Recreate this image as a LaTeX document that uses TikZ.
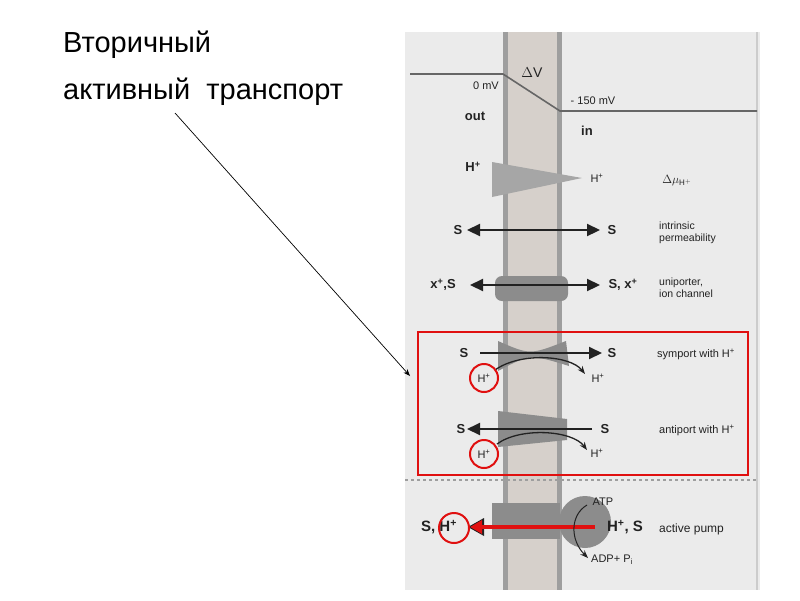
\documentclass[tikz,border=0pt]{standalone}
\usepackage{fontspec}
\setmainfont{Liberation Sans}
\usetikzlibrary{arrows.meta}
\definecolor{pan}{HTML}{EBEBEB}
\definecolor{mem}{HTML}{D6D0CB}
\definecolor{memb}{HTML}{9E9E9E}
\definecolor{prot}{HTML}{8C8C8C}
\definecolor{tx}{HTML}{222222}
\definecolor{rd}{HTML}{E01010}
\newcommand{\hp}{H\textsuperscript{+}}
\tikzset{lb/.style={font=\fontsize{13}{14}\selectfont\bfseries,text=tx,inner sep=0pt},
 sm/.style={font=\fontsize{11}{12}\selectfont,text=tx,inner sep=0pt},
 ds/.style={font=\fontsize{10.5}{12}\selectfont,text=tx,inner sep=0pt,align=left,anchor=west},
 ru/.style={font=\fontsize{29}{32}\selectfont,inner sep=0pt,anchor=west},
 bar/.style={-{Triangle[length=13pt,width=12pt]},line width=2pt,tx},
 dbar/.style={{Triangle[length=13pt,width=12pt]}-{Triangle[length=13pt,width=12pt]},line width=2.2pt,tx},
 cur/.style={-{Stealth[length=8pt]},line width=1.3pt,tx},
 rc/.style={draw=rd,line width=2pt,fill=none}}
\begin{document}
\begin{tikzpicture}[x=1pt,y=-1pt]
\path[fill=white] (0,0) rectangle (800,600);
\useasboundingbox (0,0) rectangle (800,600);
\fill[pan] (405,32) rectangle (760,590);
\draw[gray!40,line width=1.5pt] (757,32) -- (757,590);
\fill[mem] (503,32) rectangle (562,590);
\fill[memb] (503,32) rectangle (508,590);
\fill[memb] (557,32) rectangle (562,590);
% voltage
\draw[gray!80!black,line width=1.6pt] (410,74) -- (503,74) -- (560,111) -- (757,111);
\node[font=\fontsize{14}{14}\selectfont,text=tx] (dv) at (532,73) {$\Delta$V};
\node[sm] (zero) at (486,86) {0 mV};
\node[sm] (m150) at (593,101) {- 150 mV};
\node[lb] (out) at (475,116) {out};
\node[lb] (in) at (587,131) {in};
% gradient
\fill[gray!70] (492,162) -- (582,178) -- (492,197) -- cycle;
\node[lb] (hl) at (473,167) {\hp};
\node[sm] (hr) at (597,178) {\hp};
\node[font=\fontsize{12}{12}\selectfont,text=tx,inner sep=0pt] (mu) at (677,181) {$\Delta\mu_{\mathrm{H}^+}$};
% intrinsic
\node[lb] (s1) at (458,230) {S};
\node[lb] (s2) at (612,230) {S};
\draw[dbar] (467,230) -- (600,230);
\node[ds] (intr) at (659,233) {intrinsic\\permeability};
% uniporter
\fill[prot,rounded corners=7pt] (495,276) rectangle (568,301);
\node[lb] (x1) at (443,285) {x\textsuperscript{+},S};
\node[lb] (x2) at (623,285) {S, x\textsuperscript{+}};
\draw[dbar] (470,285) -- (600,285);
\node[ds] (uni) at (659,288) {uniporter,\\ion channel};
% symport
\fill[prot] (498,341) .. controls (530,355) .. (566,341) -- (569,366) .. controls (530,354) .. (498,371) -- cycle;
\node[lb] (ss1) at (464,353) {S};
\node[lb] (ss2) at (612,353) {S};
\draw[bar] (480,353) -- (602,353);
\node[sm] (sh1) at (484,378) {\hp};
\node[sm] (sh2) at (598,378) {\hp};
\draw[cur] (495,370) .. controls (520,352) and (570,355) .. (585,374);
\node[sm,anchor=west] (syt) at (657,354) {symport with \hp};
% antiport
\fill[prot] (498,411) -- (567,419) -- (567,440) -- (498,447) -- cycle;
\node[lb] (as1) at (461,429) {S};
\node[lb] (as2) at (605,429) {S};
\draw[bar] (592,429) -- (467,429);
\node[sm] (ah1) at (484,454) {\hp};
\node[sm] (ah2) at (597,453) {\hp};
\draw[cur] (497,444) .. controls (520,427) and (572,430) .. (587,450);
\node[sm,anchor=west] (ant) at (659,430) {antiport with \hp};
% red box
\draw[rd,line width=2pt] (418,332) rectangle (748,475);
\draw[rc] (sh1) circle (14);
\draw[rc] (ah1) circle (14);
% dashed
\draw[memb,dashed,line width=1.4pt] (405,480) -- (757,480);
% pump
\fill[prot] (492,503) rectangle (560,539);
\fill[prot] (585,522) circle (26);
\fill[tx] (468,527) -- (484,518) -- (484,536) -- cycle;
\draw[-{Triangle[length=12pt,width=13pt]},rd,line width=4pt] (595,527) -- (470,527);
\node[lb,font=\fontsize{15}{15}\selectfont\bfseries] (pl) at (439,527) {S, \hp};
\node[lb,font=\fontsize{15}{15}\selectfont\bfseries] (pr) at (625,527) {\hp, S};
\draw[rc] (454,528) circle (15);
\node[ds,font=\fontsize{12}{12}\selectfont] (ap) at (659,529) {active pump};
\node[sm] (atp) at (603,502) {ATP};
\node[sm] (adp) at (612,560) {ADP+ P$_\mathrm{i}$};
\coordinate (c0) at (587,505);
\coordinate (c1) at (588,558);
\draw[cur,line width=1pt] (c0) .. controls (570,515) and (570,540) .. (c1);
% left text
\node[ru] (t1) at (63,45) {Вторичный};
\node[ru] (t2) at (63,92) {активный\ \ транспорт};
\coordinate (ae) at (410,376);
\draw[-{Stealth[length=7pt]},line width=0.7pt] (175,113) -- (ae);
\end{tikzpicture}
\end{document}
